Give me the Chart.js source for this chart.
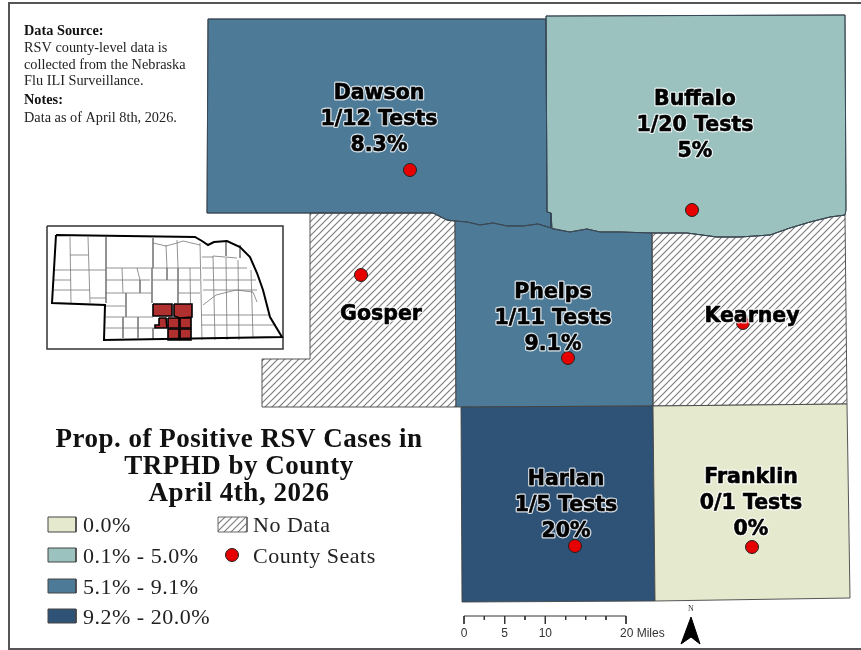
<!DOCTYPE html>
<html>
<head>
<meta charset="utf-8">
<title>Prop. of Positive RSV Cases in TRPHD by County</title>
<script src="https://cdn.jsdelivr.net/npm/chart.js@4"></script>
<style>
  html, body { margin: 0; padding: 0; background: #fff; }
  canvas { display: block; }
</style>
</head>
<body>
<canvas id="map" width="861" height="650"></canvas>
<script>
// county data
const countyNames = ['Dawson', 'Buffalo', 'Gosper', 'Phelps', 'Kearney', 'Harlan', 'Franklin'];
const countyTests = ['1/12 Tests', '1/20 Tests', null, '1/11 Tests', null, '1/5 Tests', '0/1 Tests'];
const countyRates = ['8.3%', '5%', null, '9.1%', null, '20%', '0%'];
const countyClass = [2, 1, null, 2, null, 3, 0];

const legendLabels = ['0.0%', '0.1% - 5.0%', '5.1% - 9.1%', '9.2% - 20.0%'];
const classColors = ['#e5eacf', '#9bc2be', '#4d7a96', '#2f5376'];

// county outlines, in map units
const dawsonShape = [[208, 19], [546, 19], [547, 212], [551, 213], [551, 228], [538, 224], [523, 226], [507, 226], [493, 223], [480, 225], [467, 222], [455, 221], [447, 220], [433, 213], [310, 213], [207, 213], [208, 19]];
const buffaloShape = [[546, 16], [845, 15], [846, 210], [845, 215], [830, 217], [810, 222], [790, 228], [770, 235], [740, 237], [717, 237], [687, 233], [652, 233], [620, 232], [600, 232], [587, 229], [570, 232], [552, 229], [551, 213], [547, 212], [546, 16]];
const gosperShape = [[310, 213], [433, 213], [447, 220], [455, 221], [456, 407], [262, 407], [262, 359], [310, 359], [310, 213]];
const phelpsShape = [[455, 221], [467, 222], [480, 225], [493, 223], [507, 226], [523, 226], [538, 224], [551, 228], [570, 232], [587, 229], [600, 232], [620, 232], [652, 233], [653, 406], [456, 407], [455, 221]];
const kearneyShape = [[652, 233], [687, 233], [717, 237], [740, 237], [770, 235], [790, 228], [810, 222], [830, 217], [845, 215], [847, 404], [653, 406], [652, 233]];
const harlanShape = [[461, 407], [653, 406], [655, 601], [462, 602], [461, 407]];
const franklinShape = [[653, 406], [847, 404], [850, 598], [655, 601], [653, 406]];
const countyShapes = [dawsonShape, buffaloShape, gosperShape, phelpsShape, kearneyShape, harlanShape, franklinShape];

const countySeats = [[410, 170], [692, 210], [361, 275], [568, 358], [743, 323], [575, 546], [752, 547]];

// state inset
const stateOutline = [[56, 235], [195, 237], [202, 241], [208, 245], [214, 242], [227, 241], [240, 247], [250, 257], [257, 273], [263, 290], [270, 317], [282, 337], [104, 340], [105, 305], [52, 303], [56, 235]];
const insetLines = [
  [[70, 237], [71, 303]], [[88, 237], [90, 303]], [[106, 237], [106, 303]], [[70, 255], [88, 255]],
  [[55, 270], [106, 270]], [[54, 280], [71, 280]], [[54, 290], [90, 290]], [[90, 298], [106, 298]],
  [[106, 268], [200, 268]], [[153, 238], [153, 268]], [[166, 245], [167, 268]], [[177, 240], [178, 268]],
  [[153, 243], [166, 246], [177, 243], [183, 241], [200, 245]], [[200, 243], [202, 340]],
  [[106, 280], [150, 280]], [[122, 268], [123, 293]], [[137, 268], [140, 280]], [[152, 268], [152, 303]],
  [[167, 268], [167, 280]], [[178, 268], [178, 303]], [[190, 268], [191, 340]], [[152, 280], [200, 280]],
  [[105, 293], [152, 293]], [[178, 293], [200, 293]], [[126, 293], [126, 317]], [[140, 280], [140, 293]],
  [[106, 306], [125, 306]], [[106, 317], [153, 317]], [[106, 328], [155, 328]],
  [[123, 317], [123, 338]], [[138, 317], [138, 338]], [[153, 328], [153, 339]],
  [[213, 256], [215, 340]], [[226, 258], [227, 340]], [[238, 260], [239, 340]], [[251, 270], [253, 338]],
  [[202, 257], [213, 257]], [[213, 256], [237, 258]], [[202, 268], [247, 268]], [[203, 280], [256, 280]],
  [[203, 290], [257, 290]], [[201, 315], [270, 315]], [[201, 325], [276, 325]],
  [[203, 305], [216, 295], [236, 290], [253, 292], [257, 302]], [[240, 245], [240, 258]], [[226, 242], [226, 256]]
];
const insetCounties = [
  [[153, 304], [172, 304], [172, 316], [153, 316], [153, 304]],
  [[174, 304], [192, 304], [192, 317], [180, 318], [174, 316], [174, 304]],
  [[159, 318], [166, 318], [167, 328], [155, 328], [155, 325], [159, 325], [159, 318]],
  [[168, 318], [179, 318], [179, 328], [168, 328], [168, 318]],
  [[180, 318], [191, 318], [191, 328], [180, 328], [180, 318]],
  [[168, 329], [179, 329], [179, 340], [168, 340], [168, 329]],
  [[180, 329], [191, 329], [191, 340], [180, 340], [180, 329]]
];
const insetFrame = [[47, 226], [283, 226], [283, 349], [47, 349], [47, 226]];
const pageFrame = [[861, 3], [9, 3], [9, 649], [861, 649]];

// scale bar and north arrow
const scaleStops = [464, 484.3, 504.7, 525, 545.3, 565.7, 585.7, 606, 626];
const scaleMajor = [0, 2, 4, 8];
const scaleLabels = ['0', '5', '10', '20 Miles'];
const northArrow = [[691, 617], [700, 644], [691, 637], [681, 644], [691, 617]];

// legend boxes
const legendBoxes = [
  [[48, 517], [76, 517], [76, 532], [48, 532], [48, 517]],
  [[48, 548], [76, 548], [76, 562], [48, 562], [48, 548]],
  [[48, 579], [76, 579], [76, 593], [48, 593], [48, 579]],
  [[48, 609], [76, 609], [76, 623], [48, 623], [48, 609]]
];
const noDataBox = [[218, 517], [247, 517], [247, 532], [218, 532], [218, 517]];
const seatKey = [[232, 555]];

const toPoints = list => list.map(p => ({ x: p[0], y: p[1] }));

function makeHatch(step) {
  const tile = document.createElement('canvas');
  tile.width = step;
  tile.height = step;
  const t = tile.getContext('2d');
  t.strokeStyle = '#7a7a7a';
  t.lineWidth = 1.1;
  t.beginPath();
  t.moveTo(-1, 1); t.lineTo(1, -1);
  t.moveTo(0, step); t.lineTo(step, 0);
  t.moveTo(step - 1, step + 1); t.lineTo(step + 1, step - 1);
  t.stroke();
  return t.createPattern(tile, 'repeat');
}
const hatch = makeHatch(7);

function shape(list, fillColor, lineColor, lineWidth) {
  return {
    data: toPoints(list),
    showLine: true,
    fill: fillColor ? 'shape' : false,
    backgroundColor: fillColor || 'transparent',
    borderColor: lineColor,
    borderWidth: lineWidth,
    pointRadius: 0,
    tension: 0,
    clip: false
  };
}

function seats(list, radius) {
  return {
    data: toPoints(list),
    showLine: false,
    pointRadius: radius,
    pointBackgroundColor: '#e60000',
    pointBorderColor: '#222',
    pointBorderWidth: 1,
    clip: false
  };
}

// built bottom up, reversed below because Chart.js paints the first dataset last
const layers = [];
layers.push(shape(pageFrame, null, '#555', 2));
countyShapes.forEach((s, i) => {
  const c = countyClass[i];
  layers.push(shape(s, c === null ? hatch : classColors[c], '#444', 0.9));
});
layers.push(shape(dawsonShape, null, '#34485a', 0.9));
layers.push(shape(buffaloShape, null, '#34485a', 0.9));
layers.push(seats(countySeats, 6.5));
layers.push(shape(insetFrame, '#fff', '#333', 1.5));
insetLines.forEach(l => layers.push(shape(l, null, '#777', 0.8)));
insetCounties.forEach(c => layers.push(shape(c, '#b03030', '#000', 1.6)));
layers.push(shape(stateOutline, null, '#000', 2));
legendBoxes.forEach((b, i) => layers.push(shape(b, classColors[i], '#444', 1)));
layers.push(shape(noDataBox, hatch, '#666', 1));
layers.push(seats(seatKey, 6.5));
scaleStops.forEach((x, i) => {
  layers.push(shape([[x, 616], [x, scaleMajor.includes(i) ? 624 : 620]], null, '#333', 1));
});
layers.push(shape([[scaleStops[0], 616], [scaleStops[8], 616]], null, '#333', 1));
layers.push(shape(northArrow, '#000', '#000', 1));
layers.reverse();

// county label anchors
const countyLabelAt = [[379, 94], [695, 100], [381, 315], [553, 293], [752, 317], [566, 480], [751, 478]];
const lineStep = 26;

const textPlugin = {
  id: 'mapText',
  afterDatasetsDraw(chart) {
    const { ctx, scales } = chart;
    const X = v => scales.x.getPixelForValue(v);
    const Y = v => scales.y.getPixelForValue(v);
    const put = (str, x, y, font, color, align, spacing) => {
      ctx.font = font;
      ctx.letterSpacing = spacing || '0px';
      ctx.fillStyle = color;
      ctx.textAlign = align || 'left';
      ctx.textBaseline = 'middle';
      ctx.fillText(str, X(x), Y(y));
      ctx.letterSpacing = '0px';
    };
    ctx.save();

    // county labels with white halo
    ctx.lineJoin = 'round';
    countyNames.forEach((name, i) => {
      const rows = [name, countyTests[i], countyRates[i]].filter(Boolean);
      rows.forEach((row, r) => {
        const x = X(countyLabelAt[i][0]);
        const y = Y(countyLabelAt[i][1] + r * lineStep);
        ctx.font = 'bold 20.5px "DejaVu Sans"';
        ctx.textAlign = 'center';
        ctx.textBaseline = 'middle';
        ctx.strokeStyle = 'rgba(255,255,255,0.8)';
        ctx.lineWidth = 3;
        ctx.strokeText(row, x, y);
        ctx.strokeStyle = '#000';
        ctx.lineWidth = 0.6;
        ctx.strokeText(row, x, y);
        ctx.fillStyle = '#000';
        ctx.fillText(row, x, y);
      });
    });

    // notes block
    const noteFont = '14.3px "Liberation Serif"';
    const noteBold = 'bold 14.3px "Liberation Serif"';
    put('Data Source:', 24, 31, noteBold, '#111');
    put('RSV county-level data is', 24, 48, noteFont, '#222');
    put('collected from the Nebraska', 24, 65, noteFont, '#222');
    put('Flu ILI Surveillance.', 24, 81, noteFont, '#222');
    put('Notes:', 24, 100, noteBold, '#111');
    put('Data as of April 8th, 2026.', 24, 118, noteFont, '#222');

    // title
    const titleFont = 'bold 27px "Liberation Serif"';
    put('Prop. of Positive RSV Cases in', 239, 440, titleFont, '#111', 'center', '0.5px');
    put('TRPHD by County', 239, 467, titleFont, '#111', 'center', '0.5px');
    put('April 4th, 2026', 239, 494, titleFont, '#111', 'center', '0.5px');

    // legend text
    const legendFont = '22px "Liberation Serif"';
    const legendY = [526, 557, 588, 618];
    legendLabels.forEach((label, i) => put(label, 83, legendY[i], legendFont, '#222', 'left', '0.5px'));
    put('No Data', 253, 526, legendFont, '#222', 'left', '0.5px');
    put('County Seats', 253, 557, legendFont, '#222', 'left', '0.5px');

    // scale bar labels
    const scaleFont = '12px "Liberation Sans"';
    put(scaleLabels[0], scaleStops[scaleMajor[0]], 634, scaleFont, '#333', 'center');
    put(scaleLabels[1], scaleStops[scaleMajor[1]], 634, scaleFont, '#333', 'center');
    put(scaleLabels[2], scaleStops[scaleMajor[2]], 634, scaleFont, '#333', 'center');
    put(scaleLabels[3], 620, 634, scaleFont, '#333');
    put('N', 691, 609, '8px "Liberation Serif"', '#333', 'center');

    ctx.restore();
  }
};

new Chart(document.getElementById('map').getContext('2d'), {
  type: 'scatter',
  data: { datasets: layers },
  options: {
    responsive: false,
    animation: false,
    events: [],
    layout: { padding: 0, autoPadding: false },
    plugins: { legend: { display: false }, title: { display: false }, tooltip: { enabled: false } },
    scales: {
      x: { type: 'linear', min: 0, max: 861, display: false },
      y: { type: 'linear', min: 0, max: 650, reverse: true, display: false }
    }
  },
  plugins: [textPlugin]
});
</script>
</body>
</html>
